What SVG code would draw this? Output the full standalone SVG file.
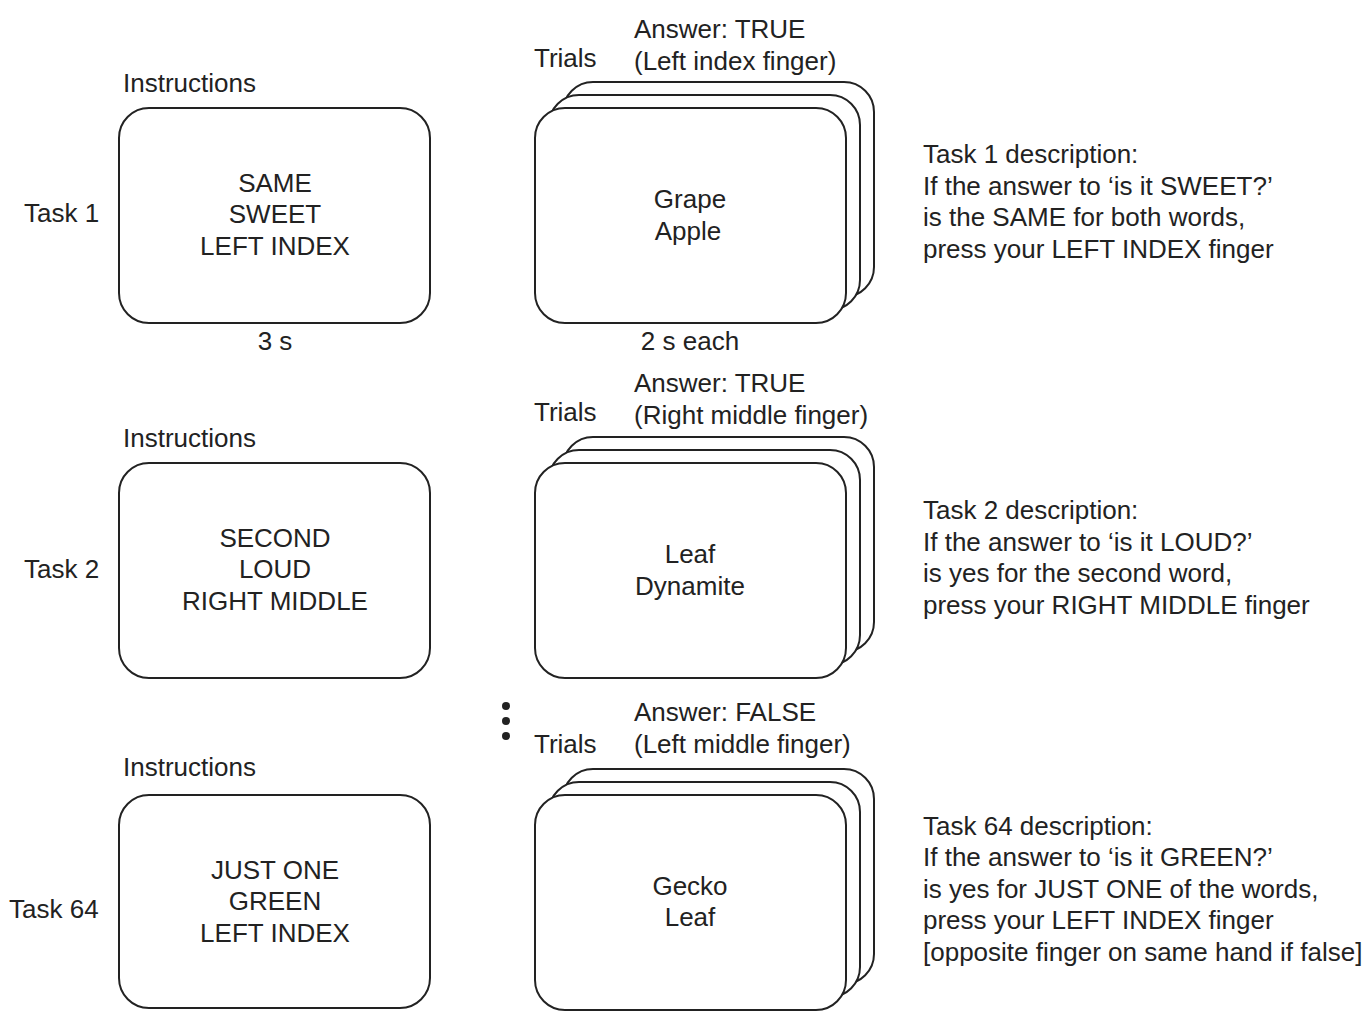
<svg xmlns="http://www.w3.org/2000/svg" width="1367" height="1011" viewBox="0 0 1367 1011">
<style>
text{font-family:"Liberation Sans",Arial,sans-serif;font-size:26px;fill:#222}
.c{text-anchor:middle}
.box{fill:#fff;stroke:#222;stroke-width:2}
</style>
<defs>
<rect id="card" width="311" height="215" rx="30" ry="30" class="box"/>
<g id="stack">
<use href="#card" x="28" y="-26"/>
<use href="#card" x="14" y="-13"/>
<use href="#card" x="0" y="0"/>
</g>
</defs>
<rect width="1367" height="1011" fill="#fff"/>
<g id="connectors"/>
<!-- Task 1 -->
<g id="task1">
<text x="24" y="222">Task 1</text>
<text x="123" y="92">Instructions</text>
</g>
<g id="instr1">
<rect x="119" y="108" width="311" height="215" rx="30" class="box"/>
<text class="c" x="275" y="192">SAME</text>
<text class="c" x="275" y="223">SWEET</text>
<text class="c" x="275" y="255">LEFT INDEX</text>
<text class="c" x="275" y="350">3 s</text>
</g>
<g id="trials1">
<text x="534" y="67">Trials</text>
<text x="634" y="38">Answer: TRUE</text>
<text x="634" y="70">(Left index finger)</text>
<use href="#stack" x="535" y="108"/>
<text class="c" x="690" y="208">Grape</text>
<text class="c" x="688" y="240">Apple</text>
<text class="c" x="690" y="350">2 s each</text>
</g>
<g id="desc1">
<text x="923" y="163">Task 1 description:</text>
<text x="923" y="195">If the answer to ‘is it SWEET?’</text>
<text x="923" y="226">is the SAME for both words,</text>
<text x="923" y="258">press your LEFT INDEX finger</text>
</g>
<!-- Task 2 -->
<g id="task2">
<text x="24" y="578">Task 2</text>
<text x="123" y="447">Instructions</text>
</g>
<g id="instr2">
<rect x="119" y="463" width="311" height="215" rx="30" class="box"/>
<text class="c" x="275" y="547">SECOND</text>
<text class="c" x="275" y="578">LOUD</text>
<text class="c" x="275" y="610">RIGHT MIDDLE</text>
</g>
<g id="trials2">
<text x="534" y="421">Trials</text>
<text x="634" y="392">Answer: TRUE</text>
<text x="634" y="424">(Right middle finger)</text>
<use href="#stack" x="535" y="463"/>
<text class="c" x="690" y="563">Leaf</text>
<text class="c" x="690" y="595">Dynamite</text>
</g>
<g id="desc2">
<text x="923" y="519">Task 2 description:</text>
<text x="923" y="551">If the answer to ‘is it LOUD?’</text>
<text x="923" y="582">is yes for the second word,</text>
<text x="923" y="614">press your RIGHT MIDDLE finger</text>
</g>
<!-- ellipsis -->
<g id="ellipsis" fill="#222">
<circle cx="506" cy="706" r="4"/>
<circle cx="506" cy="721" r="4"/>
<circle cx="506" cy="736" r="4"/>
</g>
<!-- Task 64 -->
<g id="task64">
<text x="9" y="918">Task 64</text>
<text x="123" y="776">Instructions</text>
</g>
<g id="instr64">
<rect x="119" y="795" width="311" height="213" rx="30" class="box"/>
<text class="c" x="275" y="879">JUST ONE</text>
<text class="c" x="275" y="910">GREEN</text>
<text class="c" x="275" y="942">LEFT INDEX</text>
</g>
<g id="trials64">
<text x="534" y="753">Trials</text>
<text x="634" y="721">Answer: FALSE</text>
<text x="634" y="753">(Left middle finger)</text>
<use href="#stack" x="535" y="795"/>
<text class="c" x="690" y="895">Gecko</text>
<text class="c" x="690" y="926">Leaf</text>
</g>
<g id="desc64">
<text x="923" y="835">Task 64 description:</text>
<text x="923" y="866">If the answer to ‘is it GREEN?’</text>
<text x="923" y="898">is yes for JUST ONE of the words,</text>
<text x="923" y="929">press your LEFT INDEX finger</text>
<text x="923" y="961">[opposite finger on same hand if false]</text>
</g>
</svg>
